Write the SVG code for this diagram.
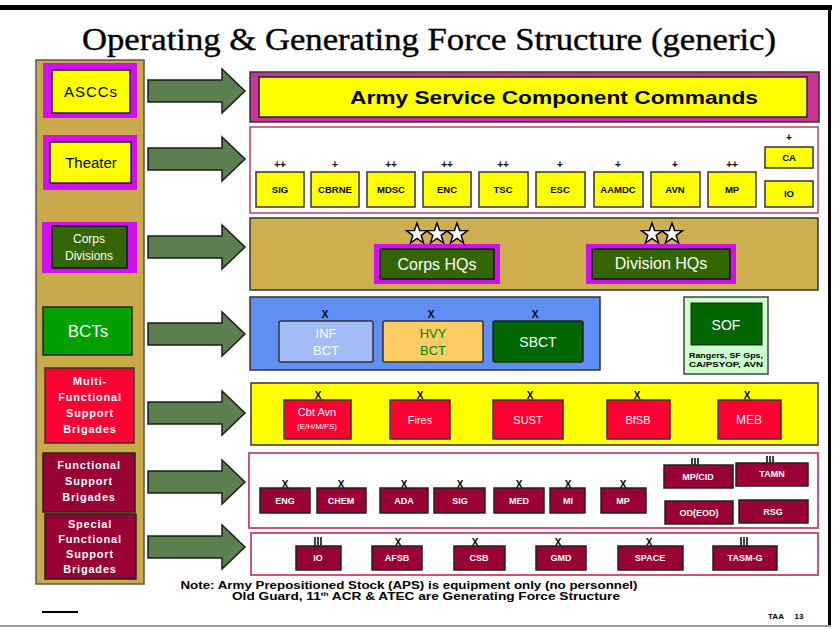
<svg xmlns="http://www.w3.org/2000/svg" xmlns:xlink="http://www.w3.org/1999/xlink" width="835" height="629" viewBox="0 0 835 629">
<style>
text{font-family:"Liberation Sans",Arial,sans-serif;text-anchor:middle}
.title{font-family:"Liberation Serif","Times New Roman",serif;font-size:32px;font-weight:normal}
.arrow{fill:#5B7F4F;stroke:#1c1c1c;stroke-width:1.5}
.mag{fill:#D010F0}
.yel{fill:#FFFF00;stroke:#222;stroke-width:1.5}
.dg{fill:#336600;stroke:#111;stroke-width:1.5}
.tyb{fill:#FFFF00;stroke:#333;stroke-width:1.5}
.red{fill:#FF0033;stroke:#333;stroke-width:1.5}
.mar{fill:#990033;stroke:#222;stroke-width:1.5}
.pinkpanel{fill:#fff;stroke:#C8557A;stroke-width:2}
.lbl{font-size:9.5px;font-weight:bold;fill:#000}
.wl{font-size:9px;font-weight:bold;fill:#fff}
.mk{font-size:10px;font-weight:bold;fill:#000}
.tick{stroke:#000;stroke-width:1.5}
.lw{fill:#fff;font-weight:bold;font-size:11px;letter-spacing:0.8px}
.star{fill:#fff;stroke:#000;stroke-width:1.5}
</style>
<defs>
<polygon id="arr" points="148,-11 222,-11 222,-22 245,0 222,22 222,11 148,11"/>
<polygon id="st" points="0,-11 2.6,-3.6 10.5,-3.4 4.2,1.4 6.5,9 0,4.5 -6.5,9 -4.2,1.4 -10.5,-3.4 -2.6,-3.6"/>
</defs>
<rect width="835" height="629" fill="#fff"/>
<!-- frame -->
<rect x="0" y="5" width="832" height="5" fill="#000"/>
<rect x="828" y="5" width="3" height="621" fill="#000"/>
<rect x="0" y="625" width="831" height="2" fill="#999"/>
<text class="title" x="429" y="50" textLength="694" lengthAdjust="spacingAndGlyphs" stroke="#000" stroke-width="0.4">Operating &amp; Generating Force Structure (generic)</text>

<!-- left column -->
<g id="left-column">
<rect x="36" y="60" width="108" height="524" fill="#C9A94A" stroke="#555" stroke-width="1.5"/>
</g>
<g id="node-asccs">
<rect class="mag" x="43" y="63" width="94" height="55"/>
<rect class="yel" x="52" y="70" width="78" height="43"/>
<text x="91" y="97" font-size="15" letter-spacing="1">ASCCs</text>
</g>
<g id="node-theater">
<rect class="mag" x="43" y="135" width="94" height="55"/>
<rect class="yel" x="50" y="142" width="81" height="41"/>
<text x="91" y="168" font-size="15">Theater</text>
</g>
<g id="node-corps-divisions">
<rect class="mag" x="42" y="222" width="95" height="51"/>
<rect class="dg" x="52" y="226" width="75" height="42"/>
<text x="89" y="243" font-size="12" fill="#fff">Corps</text>
<text x="89" y="260" font-size="12" fill="#fff">Divisions</text>
</g>
<g id="node-bcts">
<rect x="43" y="307" width="89" height="48" fill="#00A000" stroke="#222" stroke-width="1.5"/>
<text x="88" y="337" font-size="17" fill="#fff">BCTs</text>
</g>
<g id="node-multi">
<rect class="red" x="45" y="368" width="89" height="75"/>
<text class="lw" x="90" y="385">Multi-</text>
<text class="lw" x="90" y="401">Functional</text>
<text class="lw" x="90" y="417">Support</text>
<text class="lw" x="90" y="433">Brigades</text>
</g>
<g id="node-functional">
<rect class="mar" x="43" y="453" width="92" height="59"/>
<text class="lw" x="89" y="469">Functional</text>
<text class="lw" x="89" y="485">Support</text>
<text class="lw" x="89" y="501">Brigades</text>
</g>
<g id="node-special">
<rect class="mar" x="45" y="514" width="91" height="65"/>
<text class="lw" x="90" y="528">Special</text>
<text class="lw" x="90" y="543">Functional</text>
<text class="lw" x="90" y="558">Support</text>
<text class="lw" x="90" y="573">Brigades</text>
</g>

<!-- connectors -->
<g id="connectors">
<use xlink:href="#arr" class="arrow" transform="translate(0,91)"/>
<use xlink:href="#arr" class="arrow" transform="translate(0,159)"/>
<use xlink:href="#arr" class="arrow" transform="translate(0,247)"/>
<use xlink:href="#arr" class="arrow" transform="translate(0,334)"/>
<use xlink:href="#arr" class="arrow" transform="translate(0,413)"/>
<use xlink:href="#arr" class="arrow" transform="translate(0,482)"/>
<use xlink:href="#arr" class="arrow" transform="translate(0,547)"/>
<!-- CA-IO -->
<line class="tick" x1="787" y1="168" x2="787" y2="181"/><line class="tick" x1="791" y1="168" x2="791" y2="181"/>
<!-- MP/CID - OD(EOD) -->
<line class="tick" x1="697" y1="488" x2="697" y2="501"/><line class="tick" x1="701" y1="488" x2="701" y2="501"/>
<!-- TAMN - RSG -->
<line class="tick" x1="770" y1="486" x2="770" y2="500"/><line class="tick" x1="774" y1="486" x2="774" y2="500"/>
</g>

<!-- ASCC panel -->
<g id="node-ascc-panel">
<rect x="250" y="72" width="569" height="50" fill="#CC3399" stroke="#333" stroke-width="1.5"/>
<rect x="259" y="77" width="548" height="40" fill="#FFFF00" stroke="#222" stroke-width="1.5"/>
<text x="554" y="104" font-size="19" font-weight="bold" textLength="408" lengthAdjust="spacingAndGlyphs">Army Service Component Commands</text>
</g>

<!-- Theater panel -->
<g id="node-theater-panel">
<rect x="250" y="127" width="568" height="86" fill="#fff" stroke="#C04060" stroke-width="1.5"/>
<g id="th-sig"><rect class="tyb" x="256" y="172" width="48" height="35"/><text class="mk" x="280" y="168">++</text><text class="lbl" x="280" y="193">SIG</text></g>
<g id="th-cbrne"><rect class="tyb" x="311" y="172" width="48" height="35"/><text class="mk" x="335" y="168">+</text><text class="lbl" x="335" y="193">CBRNE</text></g>
<g id="th-mdsc"><rect class="tyb" x="367" y="172" width="48" height="35"/><text class="mk" x="391" y="168">++</text><text class="lbl" x="391" y="193">MDSC</text></g>
<g id="th-enc"><rect class="tyb" x="423" y="172" width="48" height="35"/><text class="mk" x="447" y="168">++</text><text class="lbl" x="447" y="193">ENC</text></g>
<g id="th-tsc"><rect class="tyb" x="479" y="172" width="49" height="35"/><text class="mk" x="503" y="168">++</text><text class="lbl" x="503" y="193">TSC</text></g>
<g id="th-esc"><rect class="tyb" x="536" y="172" width="49" height="35"/><text class="mk" x="560" y="168">+</text><text class="lbl" x="560" y="193">ESC</text></g>
<g id="th-aamdc"><rect class="tyb" x="594" y="172" width="49" height="35"/><text class="mk" x="618" y="168">+</text><text class="lbl" x="618" y="193">AAMDC</text></g>
<g id="th-avn"><rect class="tyb" x="651" y="172" width="49" height="35"/><text class="mk" x="675" y="168">+</text><text class="lbl" x="675" y="193">AVN</text></g>
<g id="th-mp"><rect class="tyb" x="708" y="172" width="48" height="35"/><text class="mk" x="732" y="168">++</text><text class="lbl" x="732" y="193">MP</text></g>
<g id="th-ca"><rect class="tyb" x="765" y="147" width="48" height="21"/><text class="mk" x="789" y="141">+</text><text class="lbl" x="789" y="161">CA</text></g>
<g id="th-io"><rect class="tyb" x="765" y="181" width="48" height="26"/><text class="lbl" x="789" y="197">IO</text></g>
</g>

<!-- Corps panel -->
<g id="node-corps-panel">
<rect x="250" y="218" width="568" height="72" fill="#CFAF4D" stroke="#333" stroke-width="1.5"/>
<g id="corps-hqs">
<rect class="mag" x="374" y="244" width="126" height="40"/>
<rect class="dg" x="380" y="249" width="114" height="30"/>
<text x="437" y="270" font-size="16" fill="#fff">Corps HQs</text>
<use xlink:href="#st" class="star" x="417" y="234"/>
<use xlink:href="#st" class="star" x="437" y="234"/>
<use xlink:href="#st" class="star" x="457" y="234"/>
</g>
<g id="division-hqs">
<rect class="mag" x="586" y="244" width="150" height="40"/>
<rect class="dg" x="592" y="249" width="138" height="30"/>
<text x="661" y="269" font-size="16" fill="#fff">Division HQs</text>
<use xlink:href="#st" class="star" x="652" y="234"/>
<use xlink:href="#st" class="star" x="672" y="234"/>
</g>
</g>

<!-- BCT panel -->
<g id="node-bct-panel">
<rect x="250" y="297" width="350" height="73" fill="#5F8FF5" stroke="#333" stroke-width="1.5"/>
<g id="bct-inf"><text class="mk" x="325" y="318">X</text><rect x="279" y="321" width="94" height="41" rx="2" fill="#A4BCF8" stroke="#333" stroke-width="1.5"/><text x="326" y="338" font-size="13" fill="#fff">INF</text><text x="326" y="355" font-size="13" fill="#fff">BCT</text></g>
<g id="bct-hvy"><text class="mk" x="431" y="318">X</text><rect x="383" y="321" width="100" height="41" rx="2" fill="#FFCC66" stroke="#333" stroke-width="1.5"/><text x="433" y="338" font-size="13" fill="#008000">HVY</text><text x="433" y="355" font-size="13" fill="#008000">BCT</text></g>
<g id="bct-sbct"><text class="mk" x="535" y="318">X</text><rect x="493" y="321" width="90" height="41" rx="2" fill="#006600" stroke="#222" stroke-width="1.5"/><text x="538" y="347" font-size="14" fill="#fff">SBCT</text></g>
</g>
<g id="node-sof">
<rect x="684" y="297" width="84" height="77" fill="#CCFFCC" stroke="#444" stroke-width="1.5"/>
<rect x="691" y="303" width="71" height="42" fill="#006600" stroke="#222" stroke-width="1"/>
<text x="726" y="330" font-size="14" fill="#fff">SOF</text>
<text x="726" y="358" font-size="7" font-weight="bold" textLength="74" lengthAdjust="spacingAndGlyphs">Rangers, SF Gps,</text>
<text x="726" y="367" font-size="7" font-weight="bold" textLength="74" lengthAdjust="spacingAndGlyphs">CA/PSYOP, AVN</text>
</g>

<!-- Multi-functional panel -->
<g id="node-multi-panel">
<rect x="251" y="383" width="567" height="62" fill="#FFFF00" stroke="#333" stroke-width="1.5"/>
<g id="mf-cbtavn"><text class="mk" x="318" y="399">X</text><rect class="red" x="284" y="400" width="67" height="39"/><text x="317" y="416" font-size="11" fill="#fff">Cbt Avn</text><text x="317" y="429" font-size="8" fill="#fff">(E/H/M/FS)</text></g>
<g id="mf-fires"><text class="mk" x="420" y="399">X</text><rect class="red" x="390" y="400" width="60" height="39"/><text x="420" y="424" font-size="11" fill="#fff">Fires</text></g>
<g id="mf-sust"><text class="mk" x="530" y="399">X</text><rect class="red" x="493" y="400" width="70" height="39"/><text x="528" y="424" font-size="11" fill="#fff">SUST</text></g>
<g id="mf-bfsb"><text class="mk" x="637" y="399">X</text><rect class="red" x="607" y="400" width="63" height="39"/><text x="638" y="424" font-size="11" fill="#fff">BfSB</text></g>
<g id="mf-meb"><text class="mk" x="747" y="399">X</text><rect class="red" x="718" y="400" width="63" height="39"/><text x="749" y="424" font-size="12" fill="#fff">MEB</text></g>
</g>

<!-- Functional panel -->
<g id="node-functional-panel">
<rect class="pinkpanel" x="249" y="453" width="569" height="75"/>
<g id="fs-eng"><text class="mk" x="285" y="488">X</text><rect class="mar" x="260" y="488" width="50" height="25"/><text class="wl" x="285" y="504">ENG</text></g>
<g id="fs-chem"><text class="mk" x="341" y="488">X</text><rect class="mar" x="317" y="488" width="49" height="25"/><text class="wl" x="341" y="504">CHEM</text></g>
<g id="fs-ada"><text class="mk" x="404" y="488">X</text><rect class="mar" x="380" y="488" width="48" height="25"/><text class="wl" x="404" y="504">ADA</text></g>
<g id="fs-sig"><text class="mk" x="460" y="488">X</text><rect class="mar" x="434" y="488" width="51" height="25"/><text class="wl" x="460" y="504">SIG</text></g>
<g id="fs-med"><text class="mk" x="519" y="488">X</text><rect class="mar" x="494" y="488" width="50" height="25"/><text class="wl" x="519" y="504">MED</text></g>
<g id="fs-mi"><text class="mk" x="568" y="488">X</text><rect class="mar" x="550" y="488" width="35" height="25"/><text class="wl" x="568" y="504">MI</text></g>
<g id="fs-mp"><text class="mk" x="623" y="488">X</text><rect class="mar" x="601" y="488" width="45" height="25"/><text class="wl" x="623" y="504">MP</text></g>
<g id="fs-mpcid"><line class="tick" x1="692" y1="458" x2="692" y2="465"/><line class="tick" x1="695" y1="458" x2="695" y2="465"/><line class="tick" x1="698" y1="458" x2="698" y2="465"/><rect class="mar" x="664" y="465" width="69" height="23"/><text class="wl" x="698" y="480">MP/CID</text></g>
<g id="fs-tamn"><line class="tick" x1="767" y1="456" x2="767" y2="463"/><line class="tick" x1="770" y1="456" x2="770" y2="463"/><line class="tick" x1="773" y1="456" x2="773" y2="463"/><rect class="mar" x="736" y="463" width="72" height="23"/><text class="wl" x="772" y="477">TAMN</text></g>
<g id="fs-odeod"><rect class="mar" x="665" y="501" width="68" height="23"/><text class="wl" x="699" y="516">OD(EOD)</text></g>
<g id="fs-rsg"><rect class="mar" x="739" y="500" width="69" height="23"/><text class="wl" x="773" y="515">RSG</text></g>
</g>

<!-- Special functional panel -->
<g id="node-special-panel">
<rect class="pinkpanel" x="251" y="533" width="567" height="42"/>
<g id="sf-io"><line class="tick" x1="315" y1="537" x2="315" y2="546"/><line class="tick" x1="318" y1="537" x2="318" y2="546"/><line class="tick" x1="321" y1="537" x2="321" y2="546"/><rect class="mar" x="296" y="546" width="45" height="24"/><text class="wl" x="318" y="561">IO</text></g>
<g id="sf-afsb"><text class="mk" x="398" y="546">X</text><rect class="mar" x="372" y="546" width="50" height="24"/><text class="wl" x="397" y="561">AFSB</text></g>
<g id="sf-csb"><text class="mk" x="475" y="546">X</text><rect class="mar" x="454" y="546" width="51" height="24"/><text class="wl" x="479" y="561">CSB</text></g>
<g id="sf-gmd"><text class="mk" x="558" y="546">X</text><rect class="mar" x="536" y="546" width="50" height="24"/><text class="wl" x="561" y="561">GMD</text></g>
<g id="sf-space"><text class="mk" x="649" y="546">X</text><rect class="mar" x="618" y="546" width="65" height="24"/><text class="wl" x="650" y="561">SPACE</text></g>
<g id="sf-tasmg"><line class="tick" x1="741" y1="537" x2="741" y2="546"/><line class="tick" x1="744" y1="537" x2="744" y2="546"/><line class="tick" x1="747" y1="537" x2="747" y2="546"/><rect class="mar" x="713" y="546" width="64" height="24"/><text class="wl" x="745" y="561">TASM-G</text></g>
</g>

<!-- note -->
<text x="409" y="589" font-size="10" font-weight="bold" textLength="457" lengthAdjust="spacingAndGlyphs">Note: Army Prepositioned Stock (APS) is equipment only (no personnel)</text>
<text x="426" y="600" font-size="10" font-weight="bold" textLength="388" lengthAdjust="spacingAndGlyphs">Old Guard, 11<tspan font-size="6" dy="-4">th</tspan><tspan dy="4"> ACR &amp; ATEC are Generating Force Structure</tspan></text>
<line x1="42" y1="612" x2="78" y2="612" stroke="#000" stroke-width="2"/>
<text x="776" y="619" font-size="8" font-weight="bold">TAA</text>
<text x="799" y="619" font-size="8" font-weight="bold">13</text>
</svg>
